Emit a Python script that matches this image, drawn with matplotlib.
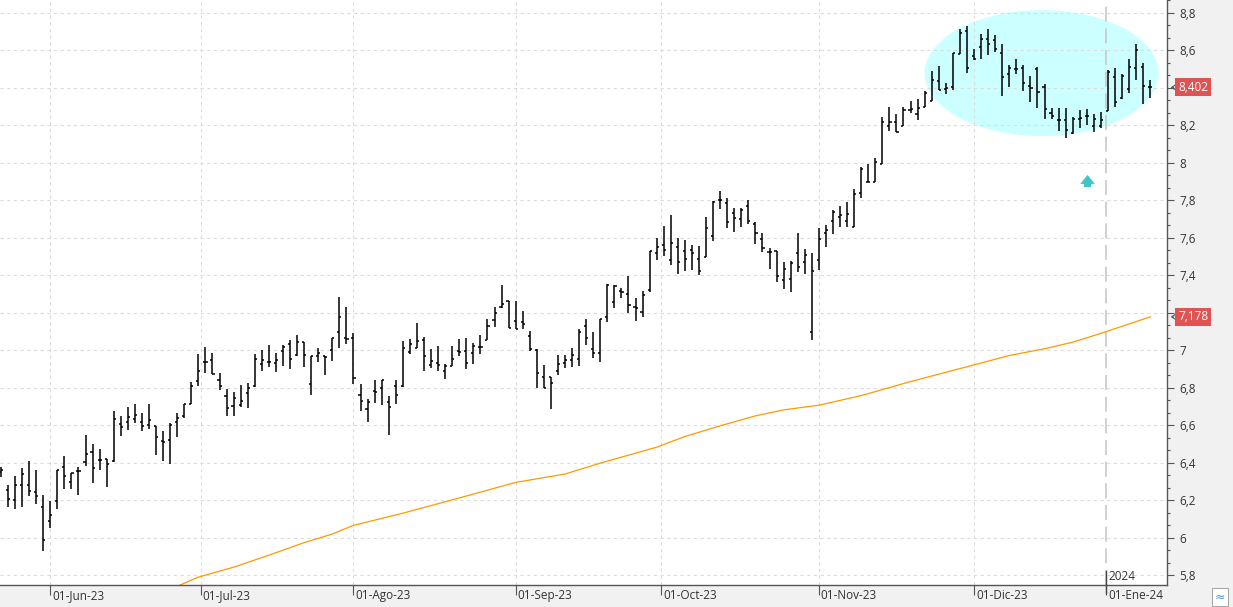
import matplotlib
matplotlib.use("Agg")
import matplotlib.pyplot as plt
import matplotlib.transforms as mtransforms
import numpy as np
import pandas as pd
from matplotlib.patches import Ellipse, Rectangle
from matplotlib.ticker import FuncFormatter, MultipleLocator

plt.rcParams["font.family"] = ["Open Sans", "DejaVu Sans"]

# trading days shown (Madrid exchange closed on the listed holidays)
holidays = ["2023-12-25", "2023-12-26", "2024-01-01"]
dates = pd.bdate_range("2023-05-23", "2024-01-10")
dates = dates[~dates.isin(pd.to_datetime(holidays))]

open_ = [
    6.350, 6.256, 6.199, 6.279, 6.280, 6.244, 6.164,
    6.087, 6.197, 6.380, 6.297, 6.354, 6.405, 6.455, 6.416, 6.418, 6.409, 6.608,
    6.615, 6.631, 6.619, 6.603, 6.597, 6.517, 6.523, 6.619, 6.651, 6.715, 6.834,
    6.939, 6.949, 6.843, 6.754, 6.704, 6.709, 6.773, 6.807, 6.928, 6.939, 6.930,
    6.997, 7.031, 6.974, 7.042, 6.821, 6.971, 6.969, 6.999, 7.099, 7.063,
    7.063, 6.759, 6.688, 6.782, 6.800, 6.725, 6.812, 6.807, 6.992, 7.013, 7.055,
    6.920, 6.931, 6.892, 6.918, 6.998, 6.998, 6.988, 7.018, 7.055, 7.164, 7.229, 7.263,
    7.158, 7.151, 7.076, 7.004, 6.858, 6.858, 6.888, 6.932, 6.950, 6.956, 7.132,
    7.009, 6.986, 7.176, 7.260, 7.316, 7.299, 7.231, 7.204, 7.322, 7.519,
    7.562, 7.484, 7.549, 7.530, 7.535, 7.487, 7.496, 7.610, 7.800, 7.786, 7.732,
    7.700, 7.770, 7.674, 7.592, 7.524, 7.530, 7.377, 7.382, 7.519, 7.473, 7.098,
    7.482, 7.626, 7.688, 7.711, 7.690, 7.660, 7.840, 7.897, 7.897, 7.995, 8.197,
    8.219, 8.196, 8.279, 8.261, 8.297, 8.327, 8.437, 8.393, 8.405, 8.581, 8.704,
    8.571, 8.620, 8.658, 8.656, 8.585, 8.476, 8.498, 8.503, 8.410, 8.498, 8.402,
    8.267, 8.228, 8.228, 8.160, 8.236, 8.251, 8.196, 8.196,
    8.277, 8.459, 8.348, 8.391, 8.503, 8.510, 8.405,
]
high = [
    6.377, 6.279, 6.327, 6.370, 6.412, 6.359, 6.226,
    6.194, 6.362, 6.434, 6.347, 6.375, 6.546, 6.498, 6.471, 6.421, 6.674, 6.652,
    6.695, 6.711, 6.667, 6.716, 6.597, 6.572, 6.613, 6.668, 6.715, 6.830, 6.978,
    7.015, 6.987, 6.880, 6.791, 6.780, 6.816, 6.823, 6.978, 7.004, 7.026, 6.983,
    7.026, 7.056, 7.079, 7.042, 6.971, 7.013, 6.972, 7.068, 7.282, 7.232,
    7.090, 6.818, 6.741, 6.844, 6.844, 6.754, 6.839, 7.052, 7.061, 7.148, 7.070,
    7.009, 7.025, 6.927, 7.025, 7.062, 7.068, 7.041, 7.084, 7.167, 7.233, 7.350, 7.263,
    7.263, 7.210, 7.103, 7.007, 6.924, 6.858, 6.975, 6.975, 7.012, 7.116, 7.167,
    7.100, 7.167, 7.354, 7.350, 7.331, 7.395, 7.279, 7.318, 7.532, 7.599,
    7.665, 7.724, 7.599, 7.590, 7.564, 7.555, 7.713, 7.795, 7.852, 7.812, 7.759,
    7.759, 7.800, 7.686, 7.624, 7.548, 7.530, 7.473, 7.476, 7.628, 7.540, 7.521,
    7.652, 7.670, 7.750, 7.772, 7.793, 7.861, 7.980, 7.991, 8.023, 8.242, 8.300,
    8.261, 8.299, 8.332, 8.338, 8.384, 8.492, 8.514, 8.428, 8.588, 8.711, 8.727,
    8.608, 8.688, 8.715, 8.679, 8.631, 8.524, 8.551, 8.521, 8.462, 8.512, 8.418,
    8.290, 8.290, 8.290, 8.245, 8.281, 8.286, 8.258, 8.270,
    8.494, 8.505, 8.471, 8.556, 8.633, 8.533, 8.441,
]
low = [
    6.324, 6.164, 6.153, 6.164, 6.222, 6.180, 5.929,
    6.052, 6.153, 6.260, 6.260, 6.228, 6.382, 6.292, 6.359, 6.270, 6.405, 6.542,
    6.574, 6.612, 6.569, 6.581, 6.444, 6.407, 6.393, 6.537, 6.638, 6.715, 6.808,
    6.880, 6.875, 6.788, 6.649, 6.649, 6.697, 6.692, 6.804, 6.889, 6.910, 6.884,
    6.916, 6.901, 6.972, 6.910, 6.761, 6.937, 6.868, 6.944, 7.012, 7.035,
    6.818, 6.676, 6.617, 6.718, 6.708, 6.549, 6.711, 6.804, 6.978, 7.013, 6.891,
    6.904, 6.888, 6.845, 6.915, 6.970, 6.899, 6.925, 6.980, 7.055, 7.123, 7.226, 7.117,
    7.114, 7.112, 6.996, 6.801, 6.799, 6.685, 6.867, 6.908, 6.909, 6.915, 7.027,
    6.957, 6.938, 7.153, 7.226, 7.277, 7.199, 7.155, 7.176, 7.309, 7.480,
    7.505, 7.457, 7.409, 7.421, 7.427, 7.400, 7.496, 7.581, 7.754, 7.651, 7.631,
    7.658, 7.674, 7.565, 7.523, 7.432, 7.363, 7.325, 7.309, 7.416, 7.405, 7.053,
    7.427, 7.549, 7.622, 7.656, 7.660, 7.660, 7.812, 7.897, 7.897, 7.995, 8.171,
    8.165, 8.194, 8.268, 8.229, 8.297, 8.327, 8.389, 8.366, 8.389, 8.578, 8.480,
    8.546, 8.553, 8.576, 8.590, 8.356, 8.404, 8.476, 8.384, 8.325, 8.293, 8.231,
    8.231, 8.171, 8.130, 8.156, 8.187, 8.201, 8.162, 8.183,
    8.276, 8.299, 8.338, 8.370, 8.441, 8.316, 8.348,
]
close = [
    6.359, 6.208, 6.284, 6.341, 6.250, 6.222, 5.989,
    6.123, 6.359, 6.327, 6.345, 6.357, 6.448, 6.373, 6.416, 6.395, 6.636, 6.590,
    6.645, 6.656, 6.597, 6.629, 6.535, 6.512, 6.604, 6.640, 6.711, 6.811, 6.887,
    6.939, 6.875, 6.811, 6.693, 6.748, 6.732, 6.798, 6.955, 6.946, 6.935, 6.949,
    7.015, 6.955, 7.045, 6.976, 6.971, 6.985, 6.965, 7.067, 7.180, 7.060,
    6.853, 6.732, 6.725, 6.779, 6.843, 6.695, 6.760, 7.012, 7.031, 7.051, 6.968,
    6.945, 6.922, 6.918, 6.954, 6.990, 6.932, 7.023, 7.020, 7.132, 7.201, 7.245, 7.117,
    7.114, 7.142, 7.007, 6.879, 6.800, 6.826, 6.927, 6.948, 6.977, 7.100, 7.066,
    6.986, 7.167, 7.350, 7.341, 7.311, 7.244, 7.226, 7.297, 7.530, 7.549,
    7.535, 7.574, 7.473, 7.487, 7.519, 7.425, 7.652, 7.789, 7.800, 7.684, 7.706,
    7.750, 7.690, 7.626, 7.546, 7.524, 7.396, 7.434, 7.466, 7.444, 7.508, 7.425,
    7.594, 7.644, 7.740, 7.722, 7.727, 7.831, 7.968, 7.897, 8.004, 8.219, 8.219,
    8.166, 8.283, 8.286, 8.293, 8.373, 8.443, 8.389, 8.400, 8.588, 8.693, 8.508,
    8.553, 8.661, 8.631, 8.608, 8.460, 8.507, 8.500, 8.427, 8.400, 8.375, 8.286,
    8.252, 8.228, 8.174, 8.236, 8.238, 8.252, 8.231, 8.226,
    8.485, 8.325, 8.462, 8.512, 8.604, 8.412, 8.402,
]

# long moving average
ma_dates = [
    "2023-06-27", "2023-06-30", "2023-07-07", "2023-07-14", "2023-07-21",
    "2023-07-27", "2023-08-01", "2023-08-10", "2023-08-21", "2023-09-01",
    "2023-09-12", "2023-09-19", "2023-09-29", "2023-10-05", "2023-10-12",
    "2023-10-19", "2023-10-25", "2023-11-01", "2023-11-09", "2023-11-20",
    "2023-12-01", "2023-12-08", "2023-12-15", "2023-12-21", "2023-12-29",
    "2024-01-10",
]
ma_values = [
    5.741, 5.790, 5.843, 5.907, 5.974,
    6.020, 6.066, 6.131, 6.202, 6.295,
    6.340, 6.398, 6.483, 6.540, 6.597,
    6.650, 6.682, 6.707, 6.758, 6.833,
    6.922, 6.972, 7.008, 7.043, 7.090,
    7.178,
]

month_starts = ["2023-06-01", "2023-07-01", "2023-08-01", "2023-09-01",
                "2023-10-01", "2023-11-01", "2023-12-01", "2024-01-01"]
month_labels = ["01-Jun-23", "01-Jul-23", "01-Ago-23", "01-Sep-23",
                "01-Oct-23", "01-Nov-23", "01-Dic-23", "01-Ene-24"]

last_price = 8.402
last_ma = 7.178


def month_position(day):
    # months that start on a non-trading day sit between the two bars
    day = pd.Timestamp(day)
    nxt = int(np.searchsorted(dates.values, day.to_datetime64()))
    if dates[nxt] == day:
        return float(nxt)
    prev = nxt - 1
    frac = (day - dates[prev]).days / (dates[nxt] - dates[prev]).days
    return prev + frac


def fmt_price(v, _pos=None):
    # the value boxes cover the axis labels right under them
    if min(abs(v - last_price), abs(v - last_ma)) < 0.06:
        return ""
    return f"{v:.1f}".rstrip("0").rstrip(".").replace(".", ",")


fig = plt.figure(figsize=(12.33, 6.07), dpi=100, facecolor="#F1F1F1")
ax = fig.add_axes([0, 22 / 607, 1167 / 1233, 585 / 607])
ax.set_facecolor("white")

x = np.arange(len(dates))
ax.set_xlim(-0.13, 165.37)
ax.set_ylim(5.748, 8.868)

# highlighted zone behind the bars
ax.add_patch(Ellipse((147.6, 8.478), 33.2, 0.672, facecolor="#CCFFFF",
                     edgecolor="none", zorder=1))

# grid
ax.yaxis.set_major_locator(MultipleLocator(0.2))
ax.yaxis.set_minor_locator(MultipleLocator(0.2 / 3))
ax.grid(axis="y", which="major", color="#DCDCDC", linestyle=(0, (3, 3)), lw=0.8)
positions = [month_position(d) for d in month_starts]
for pos, lab in zip(positions, month_labels):
    if lab.endswith("24"):
        ax.axvline(pos, color="#C8C8C8", linestyle=(0, (9, 4)), lw=1.2, zorder=1.5)
    else:
        ax.axvline(pos, color="#DCDCDC", linestyle=(0, (3, 3)), lw=0.8, zorder=1.5)

# OHLC bars
tick = 0.3
ax.vlines(x, low, high, color="black", lw=1.1, zorder=3)
ax.hlines(open_, x - tick, x, color="black", lw=1.1, zorder=3)
ax.hlines(close, x, x + tick, color="black", lw=1.1, zorder=3)

ma_x = dates.get_indexer(pd.to_datetime(ma_dates))
ax.plot(ma_x, ma_values, color="#FF9900", lw=0.9, zorder=2.5)

# arrow under the zone
ax.annotate("", xy=(154.1, 7.950), xytext=(154.1, 7.855),
            arrowprops=dict(arrowstyle="simple,head_length=0.65,head_width=1.05,tail_width=0.5",
                            color="#3CC6C6", lw=0))

# axes look
for side in ("left", "top"):
    ax.spines[side].set_visible(False)
for side in ("right", "bottom"):
    ax.spines[side].set_color("#555555")
    ax.spines[side].set_linewidth(1.0)

ax.yaxis.tick_right()
ax.yaxis.set_major_formatter(FuncFormatter(fmt_price))
ax.tick_params(axis="y", which="major", length=4.8, width=0.8, color="#555555",
               labelsize=8.5, labelcolor="#333333", pad=4)
ax.tick_params(axis="y", which="minor", length=2.4, width=0.8, color="#555555")

ax.set_xticks(positions)
ax.set_xticklabels([])
ax.tick_params(axis="x", length=7, width=0.8, color="#555555", direction="out")

lab_trans = mtransforms.blended_transform_factory(ax.transData, ax.transAxes) + \
    mtransforms.ScaledTranslation(2 / 100, -4 / 100, fig.dpi_scale_trans)
for pos, lab in zip(positions, month_labels):
    ax.text(pos, 0, lab, transform=lab_trans, ha="left", va="top",
            fontsize=8.5, color="#333333")

# year marker
jan = positions[-1]
ax.axvline(jan, ymin=-0.014, ymax=0.024, color="#444444", lw=1.0, clip_on=False, zorder=4)
year_trans = mtransforms.blended_transform_factory(ax.transData, ax.transAxes) + \
    mtransforms.ScaledTranslation(2 / 100, 2 / 100, fig.dpi_scale_trans)
ax.text(jan, 0, "2024", transform=year_trans, ha="left", va="bottom",
        fontsize=8.5, color="#333333")

# last value labels on the price axis
lbl_trans = mtransforms.blended_transform_factory(ax.transAxes, ax.transData)
for v in (last_price, last_ma):
    ax.text(1.0095, v, f"{v:.3f}".replace(".", ","), transform=lbl_trans,
            ha="left", va="center", fontsize=8.5, color="white", clip_on=False,
            bbox=dict(boxstyle="square,pad=0.22", facecolor="#E05353", edgecolor="none"),
            zorder=5)
    ax.annotate("", xy=(1.0008, v), xytext=(1.008, v), xycoords=lbl_trans,
                textcoords=lbl_trans, annotation_clip=False,
                arrowprops=dict(arrowstyle="->,head_length=0.3,head_width=0.2",
                                color="#555555", lw=0.8))

# small icon in the bottom right corner
fig.add_artist(Rectangle((1212 / 1233, 1 / 607), 16 / 1233, 18 / 607,
                         transform=fig.transFigure, facecolor="white",
                         edgecolor="#AAAAAA", lw=0.8))
fig.text(1220 / 1233, 10 / 607, "≈", ha="center", va="center", fontsize=9,
         color="#4A90D9", family="DejaVu Sans")

fig.savefig("out.png", dpi=100, facecolor=fig.get_facecolor())
